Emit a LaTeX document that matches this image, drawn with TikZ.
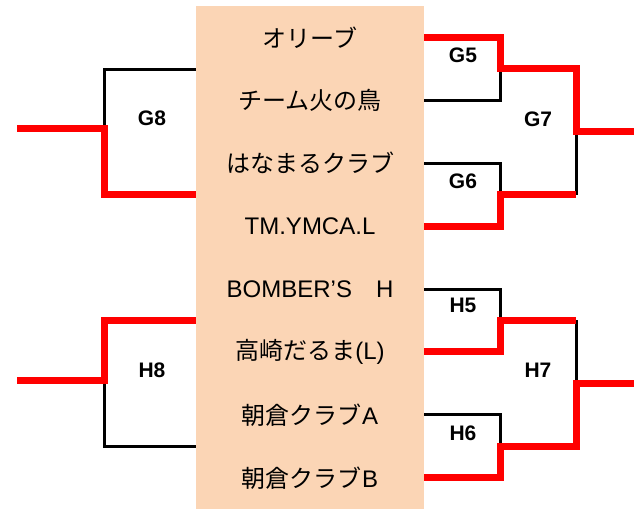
\documentclass[tikz,border=0pt]{standalone}
\usepackage{fontspec}
\newfontfamily\cjkfont{Noto Sans CJK JP}
\newfontfamily\latinfont{Liberation Sans}
\usetikzlibrary{backgrounds}
\definecolor{boxfill}{RGB}{251,213,181}
\begin{document}
\begin{tikzpicture}
[x=1pt,y=-1pt,
  teamdecorate/.style={minimum width=228pt,minimum height=62.9pt,inner sep=0pt,
    font=\latinfont\fontsize{24}{26}\selectfont},%
  matchdecorate/.style={font=\latinfont\bfseries\fontsize{21}{24}\selectfont},%
  loselinedecorate/.style={-,line width=3pt},%
  winlinedecorate/.style={-,line width=7pt,red}]
\useasboundingbox (0,0) rectangle (634,509);
%% teams
\foreach \nodename/\teamname [count=\i from 0] in {t1/{\cjkfont オリーブ},
    t2/{\cjkfont チーム火の鳥}, t3/{\cjkfont はなまるクラブ}, t4/TM.YMCA.L,
    t5/{BOMBER’S{\cjkfont 　}H}, t6/{{\cjkfont 高崎だるま}(L)},
    t7/{{\cjkfont 朝倉クラブ}A}, t8/{{\cjkfont 朝倉クラブ}B}} {
  \node (\nodename) at (310,{37.45+62.9*\i}) [teamdecorate] {\teamname};
}
\begin{scope}[on background layer]
  \fill[boxfill] (t1.north west) rectangle (t8.south east);
\end{scope}
%% match labels
\foreach \nodename/\x/\y in {G5/463/55, G6/463/181, G7/538/119, G8/152/118,
    H5/463/305, H6/463/433, H7/538/370, H8/152/370} {
  \node (\nodename) at (\x,\y) [matchdecorate] {\nodename};
}
%% joints
\coordinate (g5) at (500,68.85);
\coordinate (g6) at (500,194.65);
\coordinate (g7) at (576,131.75);
\coordinate (gout) at (634,131.75);
\coordinate (g8) at (104,128.75);
\coordinate (g8out) at (17,128.75);
\coordinate (h5) at (500,320.45);
\coordinate (h6) at (500,446.25);
\coordinate (h7) at (576,383.35);
\coordinate (hout) at (634,383.35);
\coordinate (h8) at (104,380.35);
\coordinate (h8out) at (17,380.35);
%% losing lines
\draw[loselinedecorate] (t2.east) -| (g5);
\draw[loselinedecorate] (t3.east) -| (g6);
\draw[loselinedecorate] (g7) -- (g6 -| g7);
\draw[loselinedecorate] (t1.south west) -| (g8);
\draw[loselinedecorate] (t5.east) -| (h5);
\draw[loselinedecorate] (t7.east) -| (h6);
\draw[loselinedecorate] (h5 -| h7) -- (h7);
\draw[loselinedecorate] (h8) |- (t7.south west);
%% winning lines
\draw[winlinedecorate] (t1.east) -| (g5) -| (g7) -- (gout);
\draw[winlinedecorate] (t4.east) -| (g6) -- (g6 -| g7);
\draw[winlinedecorate] (g8out) -- (g8) |- (t3.south west);
\draw[winlinedecorate] (t6.east) -| (h5) -- (h5 -| h7);
\draw[winlinedecorate] (t8.east) -| (h6) -| (h7) -- (hout);
\draw[winlinedecorate] (h8out) -- (h8) |- (t5.south west);
\end{tikzpicture}
\end{document}
